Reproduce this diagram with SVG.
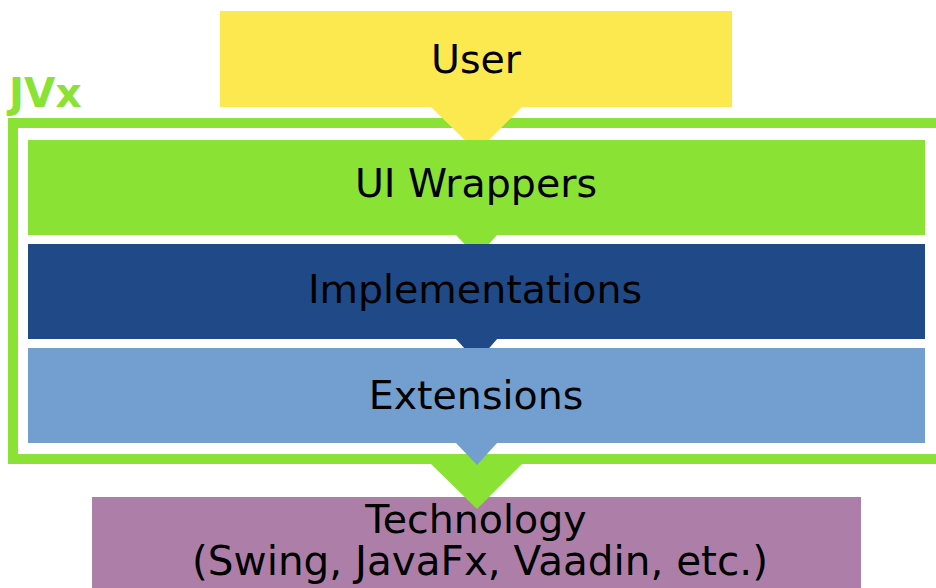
<svg xmlns="http://www.w3.org/2000/svg" width="936" height="588" viewBox="0 0 936 588">
  <style>
    .lbl { font-family: "DejaVu Sans", Verdana, sans-serif; font-size: 39.5px; fill: #000; text-anchor: middle; }
    .jvx { font-family: "DejaVu Sans", Verdana, sans-serif; font-size: 40.5px; font-weight: bold; fill: #8ae234; }
  </style>
  <rect width="936" height="588" fill="#ffffff"/>
  <g id="jvx">
    <rect x="13" y="123" width="932" height="336" fill="none" stroke="#8ae234" stroke-width="10"/>
    <text class="jvx" x="9" y="107">JVx</text>
  </g>
  <g id="technology">
    <rect x="92" y="497" width="769" height="100" fill="#ad7fa8"/>
    <text class="lbl" x="476" y="533">Technology</text>
    <text class="lbl" x="480" y="575" style="font-size:40.5px">(Swing, JavaFx, Vaadin, etc.)</text>
  </g>
  <g id="connectors">
    <polygon points="430,463 523,463 477,509" fill="#8ae234"/>
  </g>
  <g id="user">
    <rect x="220" y="11" width="512" height="96" fill="#fce94f"/>
    <polygon points="430,106 523,106 477,152" fill="#fce94f"/>
    <text class="lbl" x="476" y="73">User</text>
  </g>
  <g id="ui-wrappers">
    <rect x="28" y="140" width="897" height="95" fill="#8ae234"/>
    <polygon points="455,234 498,234 477,257" fill="#8ae234"/>
    <text class="lbl" x="476" y="197">UI Wrappers</text>
  </g>
  <g id="implementations">
    <rect x="28" y="244" width="897" height="95" fill="#204a87"/>
    <polygon points="455,338 498,338 477,362" fill="#204a87"/>
    <text class="lbl" x="475" y="303">Implementations</text>
  </g>
  <g id="extensions">
    <rect x="28" y="348" width="897" height="95" fill="#729fcf"/>
    <polygon points="455,442 498,442 477,465" fill="#729fcf"/>
    <text class="lbl" x="476" y="409">Extensions</text>
  </g>
</svg>
